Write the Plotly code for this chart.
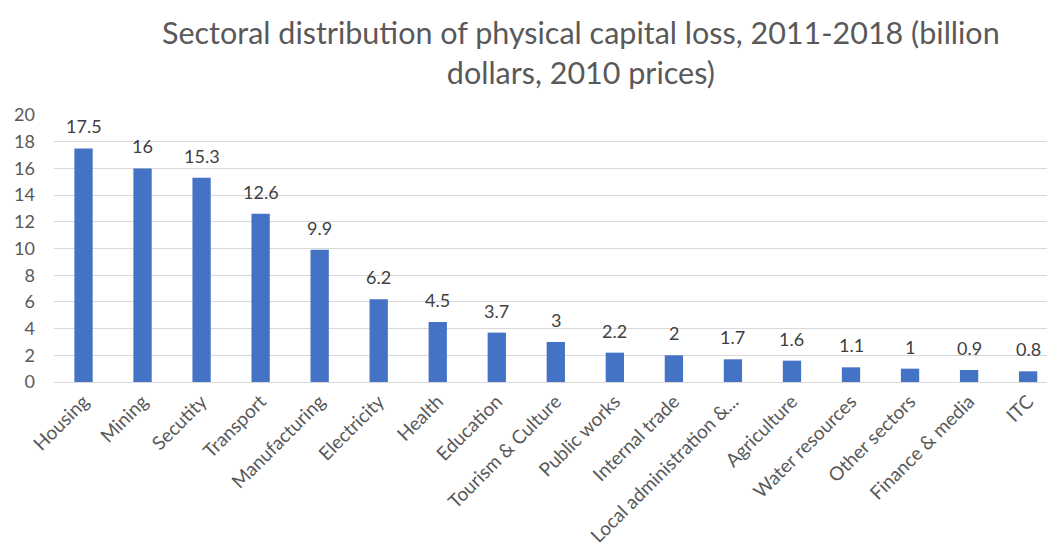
import plotly.graph_objects as go

sectors = ["Housing", "Mining", "Secutity", "Transport", "Manufacturing", "Electricity",
           "Health", "Education", "Tourism & Culture", "Public works", "Internal trade",
           "Local administration &...", "Agriculture", "Water resources", "Other sectors",
           "Finance & media", "ITC"]
loss = [17.5, 16, 15.3, 12.6, 9.9, 6.2, 4.5, 3.7, 3, 2.2, 2, 1.7, 1.6, 1.1, 1, 0.9, 0.8]
y_ticks = list(range(0, 21, 2))

FONT = "Lato"
GREY = "#595959"

fig = go.Figure(go.Bar(
    x=list(range(len(sectors))),
    y=loss,
    width=0.31,
    marker=dict(color="#4472C4", line=dict(width=0)),
    hoverinfo="skip",
))

# value labels above each bar
for i, v in enumerate(loss):
    fig.add_annotation(
        x=i, y=v, text=f"{v:g}", showarrow=False,
        yanchor="bottom", yshift=9,
        font=dict(family=FONT, size=18, color="#404040"),
    )

# chart title, two lines above the plot area
fig.add_annotation(
    xref="paper", yref="paper", x=0.531, y=1.0, yshift=23,
    xanchor="center", yanchor="bottom", showarrow=False,
    text="Sectoral distribution of physical capital loss, 2011-2018 (billion<br>dollars, 2010 prices)",
    font=dict(family=FONT, size=30.5, color=GREY),
)

fig.update_layout(
    width=1047, height=546,
    margin=dict(l=54, r=0, t=115, b=164),
    paper_bgcolor="white", plot_bgcolor="white",
    showlegend=False,
    xaxis=dict(
        tickmode="array", tickvals=list(range(len(sectors))), ticktext=sectors,
        tickangle=-45, range=[-0.5, 16.32],
        tickfont=dict(family=FONT, size=19, color=GREY),
        showgrid=False, showline=True, linecolor="#d9d9d9", linewidth=1,
        ticks="", zeroline=False,
    ),
    yaxis=dict(
        range=[0, 20], tickvals=y_ticks,
        tickfont=dict(family=FONT, size=18, color=GREY),
        showgrid=True, gridcolor="#d9d9d9", gridwidth=1,
        zeroline=False, showline=False, ticks="", ticklabelstandoff=18,
    ),
)

fig.write_html("out.html")
